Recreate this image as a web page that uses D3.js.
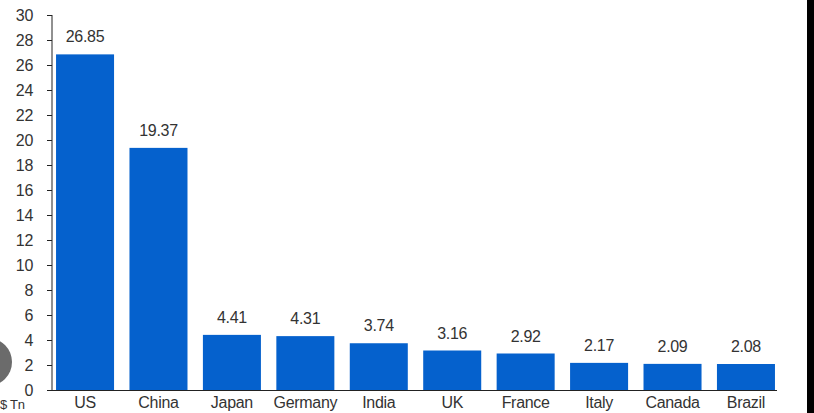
<!DOCTYPE html>
<html>
<head>
    <meta charset="utf-8">
    <title>GDP by country, $ Tn</title>
    <script src="https://d3js.org/d3.v7.min.js"></script>
    <style>
        html, body{
            margin: 0;
            padding: 0;
            background: #fff;
            overflow: hidden;
        }

        svg{
            display: block;
            font-family: "Liberation Sans", Arial, sans-serif;
        }

        .tick text, .lbl{
            fill: #333;
            font-size: 16px;
            letter-spacing: -0.3px;
        }
    </style>
</head>
<body>
    <svg id="chart" width="814" height="413"></svg>

    <script>
        // Data
        var countries = ["US", "China", "Japan", "Germany", "India", "UK", "France", "Italy", "Canada", "Brazil"];
        var gdp = [26.85, 19.37, 4.41, 4.31, 3.74, 3.16, 2.92, 2.17, 2.09, 2.08];
        var yTicks = [0, 2, 4, 6, 8, 10, 12, 14, 16, 18, 20, 22, 24, 26, 28, 30];
        var unitLabel = "$ Tn";

        var svg = d3.select("#chart"),
            width = +svg.attr("width"),
            height = +svg.attr("height");

        var x = d3.scaleBand()
            .domain(countries)
            .range([52, 779])
            .paddingInner(0.21)
            .paddingOuter(0.055);

        var y = d3.scaleLinear()
            .domain([0, 30])
            .range([390, 15]);

        // bars
        svg.selectAll("rect.bar")
            .data(countries)
            .enter()
            .append("rect")
                .attr("class", "bar")
                .attr("x", d => x(d))
                .attr("width", x.bandwidth())
                .attr("y", (d, i) => y(gdp[i]))
                .attr("height", (d, i) => y(0) - y(gdp[i]))
                .style("fill", "#0561cd");

        // value labels
        svg.selectAll("text.val")
            .data(countries)
            .enter()
            .append("text")
                .attr("class", "lbl val")
                .attr("x", d => x(d) + x.bandwidth() / 2)
                .attr("y", (d, i) => y(gdp[i]) - 12)
                .attr("text-anchor", "middle")
                .text((d, i) => gdp[i].toFixed(2));

        // y axis
        var yAxis = svg.append("g")
            .attr("transform", "translate(52,0)")
            .call(d3.axisLeft(y).tickValues(yTicks).tickSize(5).tickPadding(14));
        yAxis.select(".domain").attr("stroke", "#222").attr("d", "M0," + y(30) + "V" + y(0));
        yAxis.selectAll(".tick line").attr("stroke", "#222");

        // x axis
        var xAxis = svg.append("g")
            .attr("transform", "translate(0," + y(0) + ")")
            .call(d3.axisBottom(x).tickSize(0).tickPadding(7));
        xAxis.select(".domain").attr("stroke", "#222").attr("d", "M52,0.5H777");

        svg.selectAll(".tick text").attr("font-family", null).attr("font-size", null);

        // unit label in the bottom left corner, under the 0 tick
        svg.append("text")
            .attr("class", "lbl")
            .attr("x", 0)
            .attr("y", 409)
            .style("font-size", "13px")
            .text(unitLabel);

        // grey round overlay and dark right edge seen in the picture
        svg.append("circle")
            .attr("cx", -12)
            .attr("cy", 362)
            .attr("r", 24)
            .style("fill", "#6b6b6b");

        svg.append("rect")
            .attr("x", 807)
            .attr("y", 0)
            .attr("width", width - 807)
            .attr("height", height)
            .style("fill", "#000");
    </script>
</body>
</html>
